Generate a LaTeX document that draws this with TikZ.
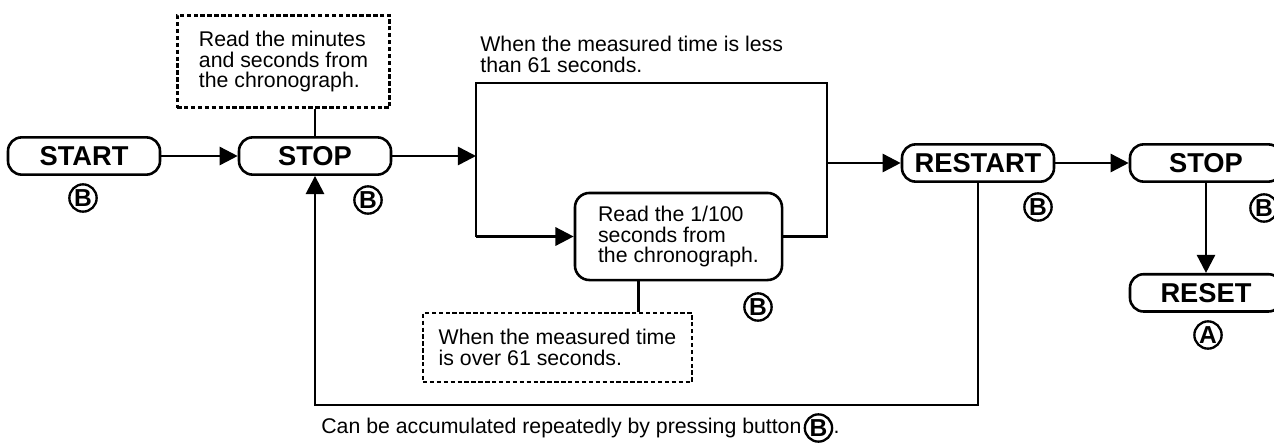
\documentclass[tikz,border=0pt]{standalone}
\usepackage{fontspec}
\setmainfont{Liberation Sans}
\usepackage{tikz}
\usetikzlibrary{arrows.meta}
\usetikzlibrary{positioning}
\usetikzlibrary{calc}

\begin{document}
\begin{tikzpicture}
[x=0.55pt, y=-0.55pt, >={Triangle[length=10pt,width=10pt]},
 btn/.style={rectangle, rounded corners=7.5pt, draw=black, line width=0.5mm, align=center, inner sep=0pt, minimum height=20.5pt, minimum width=83.6pt, font=\fontsize{15}{15}\selectfont\bfseries},
 box/.style={rectangle, rounded corners=8pt, draw=black, line width=0.5mm, align=left, inner sep=0pt, minimum height=47.9pt, minimum width=113.9pt, font=\fontsize{11.7}{11.2}\selectfont},
 note/.style={rectangle, draw=black, line width=0.55mm, dash pattern=on 2.4pt off 1.4pt, align=left, inner sep=0pt, font=\fontsize{11.7}{11.2}\selectfont},
 circ/.style={circle, draw=black, line width=0.45mm, inner sep=0pt, minimum size=15pt, font=\fontsize{13.5}{13.5}\selectfont\bfseries},
 txt/.style={align=left, inner sep=0pt, font=\fontsize{11.7}{11.2}\selectfont},
 ]
\useasboundingbox (0,0) rectangle (1274,444);
\clip (0,0) rectangle (1274,444);
\node[btn] (A) at (84,156) {START};
\node[btn] (B) at (315,156) {STOP};
\node[note, minimum width=117pt, minimum height=51pt] (D) at (283.5,61.5) {Read the minutes\\ and seconds from\\ the chronograph.};
\node[txt, anchor=north west] (G) at (480,36) {When the measured time is less\\ than 61 seconds.};
\node[box] (C) at (678.5,236.5) {Read the 1/100\\ seconds from\\ the chronograph.};
\node[note, minimum width=148pt, minimum height=38pt] (F) at (557.5,347.5) {When the measured time\\ is over 61 seconds.};
\node[btn] (R) at (978,163) {RESTART};
\node[btn] (E) at (1206,163) {STOP};
\node[btn] (H) [below=49.5pt of E] {RESET};
\node[circ] (b1) at (83,198) {B};
\node[circ] (b2) at (368,200) {B};
\node[circ] (b3) at (758,307) {B};
\node[circ] (b4) at (1038,207) {B};
\node[circ] (b5) at (1264,208) {B};
\node[circ] (a1) at (1208,335) {A};
\node[txt, anchor=west] (T) at (321,428) {Can be accumulated repeatedly by pressing button};
\node[circ, right=1pt of T] (b6) {B};
\node[txt, anchor=base west] (P) at (b6.east |- T.base) {.};
\coordinate (tl) at (476,83);
\coordinate (tr) at (827,83);
\coordinate (bl) at (C.west -| tl);
\coordinate (br) at (C.east -| tr);
\coordinate (fb) at (978,405);
\draw [->, line width=0.5mm] (A) -- (B);
\draw [-, line width=0.5mm] (B.north) -- (B.north |- D.south);
\draw [->, line width=0.5mm] (B.east) -- (B.east -| tl);
\draw [-, line width=0.5mm] (bl) -- (tl) -- (tr) -- (br) -- (C.east);
\draw [->, line width=0.5mm] (bl) -- (C.west);
\draw [-, line width=0.5mm] ([xshift=-22pt]C.south) -- ([xshift=-22pt]C.south |- F.north);
\draw [->, line width=0.5mm] (R.west -| tr) -- (R.west);
\draw [->, line width=0.5mm] (R) -- (E);
\draw [->, line width=0.5mm] (E) -- (H);
\draw [->, line width=0.5mm] (R.south) -- (fb) -| (B.south);
\end{tikzpicture}
\end{document}
